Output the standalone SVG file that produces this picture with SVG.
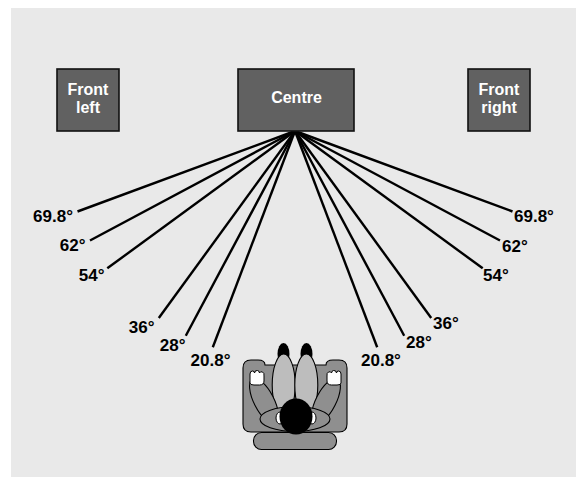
<svg xmlns="http://www.w3.org/2000/svg" width="576" height="477" viewBox="0 0 576 477">
<style>
.box{fill:#616161;stroke:#111;stroke-width:1.6}
.bt{font-family:"Liberation Sans",Arial,sans-serif;font-weight:bold;font-size:16px;fill:#fff;text-anchor:middle}
.lab{font-family:"Liberation Sans",Arial,sans-serif;font-weight:bold;font-size:17px;fill:#000}
.ln{stroke:#000;stroke-width:2.4;fill:none;stroke-linecap:butt}
.g1{fill:#8f8f8f;stroke:#000;stroke-width:1.1}
.g2{fill:#bdbdbd;stroke:#000;stroke-width:1.1}
.wh{fill:#fff;stroke:#000;stroke-width:1}
.bk{fill:#000}
</style>
<rect x="11" y="8" width="565" height="469" fill="#e9e9e9"/>
<g id="connectors">
<line class="ln" x1="295" y1="131" x2="77.5" y2="211.5"/>
<line class="ln" x1="295" y1="131" x2="90" y2="240.5"/>
<line class="ln" x1="295" y1="131" x2="107.3" y2="268.3"/>
<line class="ln" x1="295" y1="131" x2="158.8" y2="318"/>
<line class="ln" x1="295" y1="131" x2="185.8" y2="335.7"/>
<line class="ln" x1="295" y1="131" x2="212.8" y2="347.3"/>
<line class="ln" x1="295" y1="131" x2="512.5" y2="211.5"/>
<line class="ln" x1="295" y1="131" x2="500" y2="240.5"/>
<line class="ln" x1="295" y1="131" x2="482.7" y2="268.3"/>
<line class="ln" x1="295" y1="131" x2="431.2" y2="318"/>
<line class="ln" x1="295" y1="131" x2="404.2" y2="335.7"/>
<line class="ln" x1="295" y1="131" x2="377.2" y2="347.3"/>
</g>
<g id="front-left">
<rect class="box" x="57" y="69" width="62" height="62"/>
<text class="bt" x="88" y="95">Front</text>
<text class="bt" x="88" y="113">left</text>
</g>
<g id="centre">
<rect class="box" x="238" y="69" width="116" height="62"/>
<text class="bt" x="296.5" y="103">Centre</text>
</g>
<g id="front-right">
<rect class="box" x="468" y="69" width="62" height="62"/>
<text class="bt" x="499" y="95">Front</text>
<text class="bt" x="499" y="113">right</text>
</g>
<g id="labels">
<text class="lab" x="73" y="222" text-anchor="end">69.8°</text>
<text class="lab" x="85.5" y="251" text-anchor="end">62°</text>
<text class="lab" x="104.5" y="281" text-anchor="end">54°</text>
<text class="lab" x="154.5" y="333" text-anchor="end">36°</text>
<text class="lab" x="185.5" y="350.5" text-anchor="end">28°</text>
<text class="lab" x="230.5" y="366" text-anchor="end">20.8°</text>
<text class="lab" x="514" y="222">69.8°</text>
<text class="lab" x="502" y="251.5">62°</text>
<text class="lab" x="483" y="281">54°</text>
<text class="lab" x="433" y="328.5">36°</text>
<text class="lab" x="406" y="347.5">28°</text>
<text class="lab" x="361" y="366">20.8°</text>
</g>
<g id="listener">
<path class="g1" d="M243,368 Q243,360 251,360 L258,360 Q265,360 265,365 L326,365 Q326,360 333,360 L339,360 Q347,360 347,368 L347,424 Q347,432 339,432 L251,432 Q243,432 243,424 Z"/>
<rect class="g1" x="253.5" y="432.5" width="83" height="17" rx="8"/>
<ellipse class="bk" cx="283.5" cy="354" rx="6" ry="11"/>
<ellipse class="bk" cx="306.5" cy="354" rx="6" ry="11"/>
<ellipse class="g2" cx="283.7" cy="385" rx="11.5" ry="31"/>
<ellipse class="g2" cx="306.3" cy="385" rx="11.5" ry="31"/>
<ellipse class="g1" cx="264" cy="401" rx="10" ry="25" transform="rotate(-27 264 401)"/>
<ellipse class="g1" cx="326" cy="401" rx="10" ry="25" transform="rotate(27 326 401)"/>
<path class="wh" d="M250,383 L250,374 Q250,371 252.5,371 Q254.5,371 254.5,373 Q255,370 257.5,370.5 Q259.5,371 259.5,373 Q260.5,371 262.5,372 Q264.5,373 264,376 L264,381 Q264,385 259.5,385 L254,385 Q250,385 250,383 Z"/>
<path class="wh" d="M341,383 L341,374 Q341,371 338.5,371 Q336.5,371 336.5,373 Q336,370 333.5,370.5 Q331.5,371 331.5,373 Q330.5,371 328.5,372 Q326.5,373 327,376 L327,381 Q327,385 331.5,385 L337,385 Q341,385 341,383 Z"/>
<ellipse class="g1" cx="295" cy="419" rx="35" ry="12.5"/>
<ellipse class="wh" cx="280" cy="418" rx="4" ry="6"/>
<ellipse class="wh" cx="312" cy="418" rx="4" ry="6"/>
<ellipse class="bk" cx="296" cy="416.5" rx="16.5" ry="18"/>
</g>
</svg>
